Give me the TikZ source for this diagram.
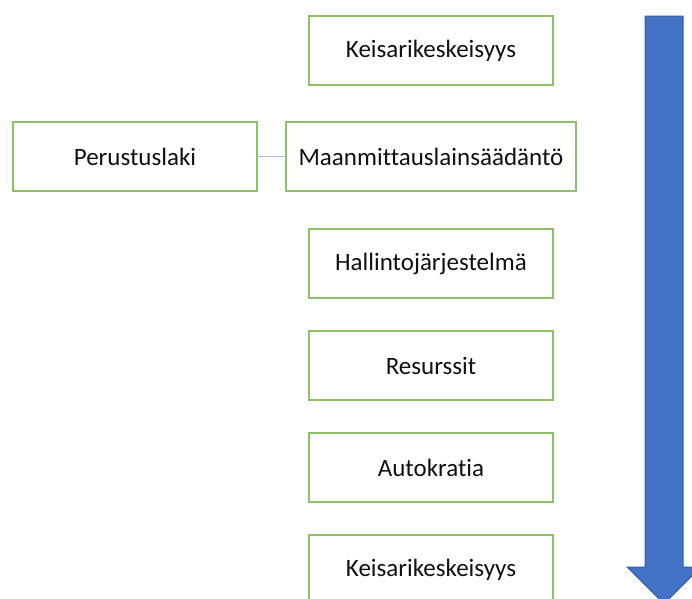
\documentclass[tikz,border=0pt]{standalone}
\usepackage{fontspec}
\setmainfont[Ligatures=NoCommon]{Carlito}
\definecolor{boxgreen}{HTML}{8CC168}
\definecolor{linkblue}{HTML}{A9C0E4}
\definecolor{arrowfill}{HTML}{4472C4}
\definecolor{arrowdraw}{HTML}{3A5F9E}
\definecolor{txt}{HTML}{111111}
\begin{document}
\begin{tikzpicture}[x=1pt,y=-1pt,
  stagebox/.style={draw=boxgreen,line width=1.1pt,fill=white,inner sep=0pt,font=\fontsize{25}{30}\selectfont,text=txt}]
\useasboundingbox (0,0) rectangle (692,598);
\clip (0,0) rectangle (692,598);
% arrow
\draw[fill=arrowfill,draw=arrowdraw,line width=1pt]
  (645,16) -- (683,16) -- (683,567) -- (701,567) -- (664,604) -- (627,567) -- (645,567) -- cycle;
% boxes
\node[stagebox,minimum width=244pt,minimum height=69pt] (k1) at (431,50.5) {Keisarikeskeisyys};
\node[stagebox,minimum width=244pt,minimum height=69pt] (p) at (135,156.5) {Perustuslaki};
\node[stagebox,minimum width=290pt,minimum height=69pt] (m) at (431,156.5) {Maanmittauslainsäädäntö};
\node[stagebox,minimum width=244pt,minimum height=69pt] (h) at (431,263.5) {Hallintojärjestelmä};
\node[stagebox,minimum width=244pt,minimum height=69pt] (r) at (431,365.5) {Resurssit};
\node[stagebox,minimum width=244pt,minimum height=69pt] (a) at (431,467.5) {Autokratia};
\node[stagebox,minimum width=244pt,minimum height=69pt] (k2) at (431,569.5) {Keisarikeskeisyys};
\draw[linkblue,line width=1pt] (p.east) -- (m.west);
\end{tikzpicture}
\end{document}
